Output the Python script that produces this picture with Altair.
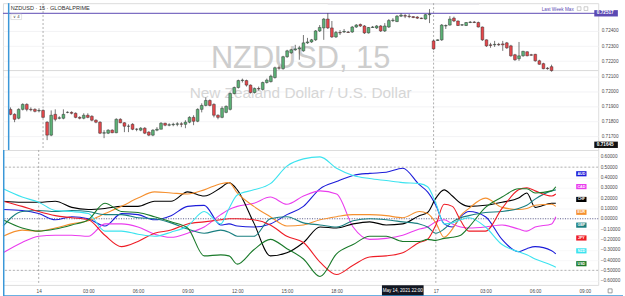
import altair as alt
import pandas as pd

# ------------------------------------------------------------------ data
# NZDUSD 15-minute candles; bar index 0 = 14 May 00:00, 96 = 17 May 00:00
candle_index = list(range(-8, 126))
opens = [0.71880, 0.71847, 0.71821, 0.71880, 0.71913, 0.71880, 0.71880, 0.71870, 0.71873, 0.71795,
         0.71709, 0.71847, 0.71821, 0.71821, 0.71860, 0.71860, 0.71854, 0.71827, 0.71821, 0.71841,
         0.71834, 0.71808, 0.71795, 0.71722, 0.71722, 0.71742, 0.71725, 0.71814, 0.71791, 0.71768,
         0.71781, 0.71748, 0.71742, 0.71755, 0.71729, 0.71709, 0.71742, 0.71748, 0.71788, 0.71775,
         0.71778, 0.71781, 0.71784, 0.71781, 0.71795, 0.71827, 0.71801, 0.71880, 0.71906, 0.71939,
         0.71913, 0.71841, 0.71827, 0.71860, 0.71880, 0.71985, 0.72025, 0.72071, 0.72071, 0.72041,
         0.71992, 0.72018, 0.72012, 0.72058, 0.72064, 0.72091, 0.72156, 0.72150, 0.72229, 0.72255,
         0.72275, 0.72281, 0.72268, 0.72321, 0.72327, 0.72341, 0.72400, 0.72420, 0.72479, 0.72420,
         0.72360, 0.72390, 0.72393, 0.72393, 0.72393, 0.72426, 0.72443, 0.72433, 0.72387, 0.72423,
         0.72420, 0.72433, 0.72400, 0.72426, 0.72469, 0.72462, 0.72498, 0.72502, 0.72498, 0.72495,
         0.72492, 0.72485, 0.72479, 0.72508, 0.72334, 0.72337, 0.72341, 0.72433, 0.72439, 0.72485,
         0.72466, 0.72439, 0.72436, 0.72456, 0.72459, 0.72456, 0.72426, 0.72341, 0.72308, 0.72308,
         0.72311, 0.72314, 0.72321, 0.72301, 0.72242, 0.72216, 0.72235, 0.72262, 0.72242, 0.72245,
         0.72202, 0.72183, 0.72153, 0.72163]
highs = [0.71893, 0.71854, 0.71887, 0.71920, 0.71920, 0.71893, 0.71887, 0.71887, 0.71880, 0.71801,
         0.71873, 0.71880, 0.71834, 0.71880, 0.71867, 0.71867, 0.71860, 0.71834, 0.71854, 0.71854,
         0.71841, 0.71814, 0.71801, 0.71742, 0.71748, 0.71748, 0.71821, 0.71821, 0.71795, 0.71781,
         0.71788, 0.71755, 0.71762, 0.71762, 0.71735, 0.71748, 0.71762, 0.71795, 0.71791, 0.71788,
         0.71791, 0.71795, 0.71795, 0.71808, 0.71834, 0.71841, 0.71887, 0.71920, 0.71959, 0.71946,
         0.71920, 0.71847, 0.71900, 0.71906, 0.71992, 0.72031, 0.72077, 0.72084, 0.72077, 0.72045,
         0.72025, 0.72031, 0.72064, 0.72084, 0.72110, 0.72163, 0.72169, 0.72235, 0.72275, 0.72281,
         0.72308, 0.72301, 0.72373, 0.72354, 0.72347, 0.72406, 0.72439, 0.72485, 0.72518, 0.72466,
         0.72400, 0.72406, 0.72413, 0.72400, 0.72433, 0.72446, 0.72449, 0.72439, 0.72426, 0.72433,
         0.72439, 0.72439, 0.72452, 0.72479, 0.72485, 0.72505, 0.72518, 0.72512, 0.72512, 0.72498,
         0.72498, 0.72489, 0.72512, 0.72545, 0.72341, 0.72344, 0.72446, 0.72443, 0.72498, 0.72495,
         0.72469, 0.72446, 0.72459, 0.72466, 0.72466, 0.72462, 0.72429, 0.72344, 0.72321, 0.72334,
         0.72321, 0.72334, 0.72327, 0.72308, 0.72248, 0.72327, 0.72268, 0.72265, 0.72248, 0.72248,
         0.72209, 0.72189, 0.72160, 0.72176]
lows = [0.71841, 0.71795, 0.71814, 0.71873, 0.71867, 0.71867, 0.71860, 0.71860, 0.71821, 0.71676,
        0.71702, 0.71801, 0.71814, 0.71814, 0.71854, 0.71847, 0.71821, 0.71814, 0.71814, 0.71821,
        0.71801, 0.71788, 0.71716, 0.71689, 0.71716, 0.71722, 0.71722, 0.71788, 0.71729, 0.71729,
        0.71742, 0.71735, 0.71735, 0.71716, 0.71702, 0.71702, 0.71735, 0.71748, 0.71768, 0.71768,
        0.71768, 0.71768, 0.71762, 0.71755, 0.71788, 0.71775, 0.71795, 0.71860, 0.71900, 0.71900,
        0.71827, 0.71814, 0.71821, 0.71854, 0.71873, 0.71979, 0.72018, 0.72058, 0.72031, 0.71985,
        0.71985, 0.72005, 0.72005, 0.72051, 0.72058, 0.72084, 0.72143, 0.72143, 0.72222, 0.72248,
        0.72268, 0.72209, 0.72262, 0.72314, 0.72321, 0.72334, 0.72393, 0.72341, 0.72413, 0.72354,
        0.72354, 0.72373, 0.72387, 0.72387, 0.72387, 0.72420, 0.72426, 0.72380, 0.72383, 0.72420,
        0.72413, 0.72393, 0.72393, 0.72420, 0.72459, 0.72459, 0.72492, 0.72485, 0.72485, 0.72485,
        0.72479, 0.72479, 0.72475, 0.72452, 0.72275, 0.72334, 0.72334, 0.72413, 0.72436, 0.72459,
        0.72433, 0.72433, 0.72433, 0.72452, 0.72452, 0.72423, 0.72334, 0.72294, 0.72288, 0.72294,
        0.72301, 0.72268, 0.72281, 0.72229, 0.72202, 0.72202, 0.72229, 0.72232, 0.72235, 0.72196,
        0.72176, 0.72146, 0.72143, 0.72130]
closes = [0.71847, 0.71814, 0.71880, 0.71913, 0.71880, 0.71877, 0.71867, 0.71873, 0.71827, 0.71709,
          0.71841, 0.71814, 0.71824, 0.71847, 0.71860, 0.71854, 0.71827, 0.71821, 0.71841, 0.71827,
          0.71808, 0.71795, 0.71722, 0.71725, 0.71742, 0.71725, 0.71814, 0.71791, 0.71768, 0.71768,
          0.71748, 0.71748, 0.71755, 0.71722, 0.71709, 0.71742, 0.71748, 0.71788, 0.71775, 0.71778,
          0.71781, 0.71784, 0.71781, 0.71795, 0.71827, 0.71801, 0.71880, 0.71906, 0.71939, 0.71906,
          0.71841, 0.71827, 0.71887, 0.71900, 0.71985, 0.72025, 0.72071, 0.72074, 0.72041, 0.71992,
          0.72018, 0.72015, 0.72058, 0.72074, 0.72100, 0.72156, 0.72153, 0.72229, 0.72268, 0.72275,
          0.72281, 0.72288, 0.72321, 0.72327, 0.72341, 0.72400, 0.72423, 0.72479, 0.72420, 0.72360,
          0.72390, 0.72387, 0.72397, 0.72390, 0.72426, 0.72439, 0.72433, 0.72387, 0.72423, 0.72426,
          0.72433, 0.72400, 0.72433, 0.72469, 0.72472, 0.72498, 0.72505, 0.72498, 0.72495, 0.72489,
          0.72485, 0.72482, 0.72508, 0.72512, 0.72281, 0.72341, 0.72439, 0.72436, 0.72479, 0.72466,
          0.72436, 0.72441, 0.72456, 0.72459, 0.72456, 0.72426, 0.72341, 0.72301, 0.72304, 0.72311,
          0.72308, 0.72308, 0.72288, 0.72235, 0.72209, 0.72235, 0.72265, 0.72235, 0.72239, 0.72202,
          0.72179, 0.72150, 0.72150, 0.72137]

last_week_max = 0.72517
cursor_price = 0.71645
prev_close_line = 0.72137
price_ticks = [0.717, 0.718, 0.719, 0.720, 0.721, 0.722, 0.723, 0.724]

# currency strength lines (same bar index)
line_index = [-8.6, -4, 0, 4, 8, 12, 16, 20, 24, 28, 32, 36, 40, 44, 46, 48, 52, 56, 60, 64,
              68, 72, 76, 80, 84, 88, 92, 94, 96, 98, 100, 102, 104, 108, 112, 116, 118, 120, 124, 125]
aud = [0.09, 0.08, 0.05, -0.01, 0.02, 0.00, -0.07, 0.05, 0.04, -0.01, 0.03, 0.12, 0.13, -0.06, -0.05, -0.07, -0.08, -0.05, 0.04, 0.12,
       0.29, 0.36, 0.42, 0.44, 0.45, 0.49, 0.33, 0.26, 0.13, -0.05, -0.08, 0.02, 0.07, 0.02, -0.20, -0.32, -0.29, -0.27, -0.31, -0.34]
cad = [-0.33, -0.23, -0.17, -0.16, -0.16, -0.17, -0.05, -0.05, -0.08, -0.15, -0.18, -0.14, -0.08, 0.04, 0.09, 0.12, 0.15, 0.21, 0.14, 0.22,
       0.27, 0.24, -0.08, -0.20, -0.19, -0.16, -0.10, -0.08, -0.03, -0.01, -0.05, -0.08, -0.09, -0.08, -0.06, -0.10, -0.12, -0.08, -0.05, 0.02]
chf = [0.17, 0.16, 0.16, 0.17, 0.11, 0.09, 0.10, 0.12, 0.12, 0.17, 0.17, 0.26, 0.22, 0.30, 0.35, 0.28, -0.04, -0.36, -0.33, -0.23,
       -0.08, -0.09, -0.05, -0.03, -0.06, -0.05, 0.03, 0.06, 0.20, 0.28, 0.22, 0.15, 0.12, 0.13, 0.16, 0.20, 0.25, 0.11, 0.15, 0.15]
eur = [-0.17, -0.11, -0.12, -0.09, -0.05, -0.02, 0.05, 0.12, 0.20, 0.26, 0.25, 0.24, 0.28, 0.34, 0.35, 0.25, 0.12, 0.02, -0.07, -0.06,
       -0.01, 0.02, 0.04, 0.04, 0.03, 0.01, 0.07, 0.05, -0.04, -0.18, -0.10, 0.03, 0.10, 0.20, 0.11, 0.09, 0.10, 0.13, 0.14, 0.12]
gbp = [-0.07, 0.07, 0.08, 0.07, 0.08, 0.07, 0.04, 0.04, 0.01, 0.00, -0.04, -0.10, -0.14, -0.11, -0.13, -0.17, -0.17, 0.00, 0.02, -0.04,
       -0.06, -0.08, -0.02, 0.00, -0.01, -0.03, -0.05, -0.08, -0.14, -0.10, -0.03, 0.01, 0.03, 0.06, 0.07, 0.10, 0.13, 0.19, 0.27, 0.28]
jpy = [0.17, 0.12, 0.07, 0.03, 0.01, -0.01, -0.16, -0.27, -0.22, -0.14, -0.11, -0.05, -0.03, -0.01, 0.00, 0.00, -0.01, -0.06, -0.17, -0.23,
       -0.42, -0.54, -0.45, -0.37, -0.36, -0.33, -0.23, -0.20, -0.06, 0.14, 0.12, -0.02, -0.12, -0.12, 0.10, 0.28, 0.30, 0.27, 0.22, 0.24]
nzd = [0.29, 0.21, 0.16, 0.08, 0.07, 0.05, -0.12, -0.12, -0.15, -0.17, -0.13, -0.07, 0.07, -0.05, 0.10, 0.23, 0.28, 0.34, 0.51, 0.58,
       0.60, 0.49, 0.42, 0.39, 0.37, 0.35, 0.34, 0.31, 0.15, -0.05, -0.04, -0.01, 0.01, -0.08, -0.25, -0.32, -0.35, -0.39, -0.45, -0.47]
usd = [-0.01, -0.09, -0.12, -0.10, -0.06, -0.01, 0.15, 0.07, 0.06, 0.02, -0.03, -0.09, -0.36, -0.35, -0.36, -0.44, -0.30, -0.20, -0.29, -0.39,
       -0.56, -0.34, -0.25, -0.17, -0.17, -0.22, -0.22, -0.20, -0.21, -0.19, -0.18, -0.16, -0.08, 0.11, 0.21, 0.29, 0.29, 0.25, 0.27, 0.31]

currencies = ["AUD", "CAD", "CHF", "EUR", "GBP", "JPY", "NZD", "USD"]
currency_colors = ["#1c1cd9", "#ea3cee", "#000000", "#f5902f", "#1a7f80", "#ee1c25", "#3ce3ef", "#1a7a2a"]
strength_ticks = [-0.6, -0.5, -0.4, -0.3, -0.2, -0.1, 0.0, 0.1, 0.2, 0.3, 0.4, 0.5, 0.6]
time_ticks = [0, 12, 24, 36, 48, 60, 72, 96, 108, 120, 132]
session_breaks = [0, 96]
cursor_bar = 88

# ------------------------------------------------------------------ scales / axes
X_DOMAIN = [-8.633, 135.25]          # 600 px plot width, 4.17 px per bar
PRICE_DOMAIN = [0.716105, 0.725842]
STR_DOMAIN = [-0.6413, 0.6663]
AX_K = 138.2                          # centre of the right price-scale column
AX_K0, AX_K1 = 135.5, 141.3

xs = alt.Scale(domain=X_DOMAIN, nice=False, zero=False)
ps = alt.Scale(domain=PRICE_DOMAIN, nice=False, zero=False)
ss = alt.Scale(domain=STR_DOMAIN, nice=False, zero=False)

LBL = dict(labelFontSize=4.7, labelColor="#4a4a4a", ticks=False, domain=False, title=None)
price_axis = alt.Axis(orient="right", values=price_ticks, format=".5f", labelPadding=3,
                      grid=True, gridColor="#f0f0f3", gridWidth=0.8, labelAlign="left", **LBL)
str_axis = alt.Axis(orient="right", values=strength_ticks, format=".5f", labelPadding=2,
                    grid=True, gridColor="#f3f3f5", gridWidth=0.6, labelAlign="left", **LBL)
time_axis = alt.Axis(values=time_ticks, labelPadding=3.5, grid=False,
                     labelExpr="datum.value == 0 ? '14' : datum.value == 96 ? '17' : "
                               "(floor((datum.value % 96) / 4) < 10 ? '0' : '') + floor((datum.value % 96) / 4) + ':00'",
                     **LBL)

W, TOP_H, BOT_H = 600, 148, 136
PX_PRICE = (PRICE_DOMAIN[1] - PRICE_DOMAIN[0]) / TOP_H
PX_STR = (STR_DOMAIN[1] - STR_DOMAIN[0]) / BOT_H
PX_K = (X_DOMAIN[1] - X_DOMAIN[0]) / W


def TX(field="k", top=True):
    return alt.X(f"{field}:Q", scale=xs, axis=None if top else time_axis)


def TY(field, top=True):
    return alt.Y(f"{field}:Q", scale=ps if top else ss, axis=price_axis if top else str_axis)


# ------------------------------------------------------------------ top panel
candles = pd.DataFrame({"k": candle_index, "open": opens, "high": highs, "low": lows, "close": closes})
candles["fill"] = ["#5cb176" if c >= o else "#e5474b" for o, c in zip(opens, closes)]

mid_k = (X_DOMAIN[0] + X_DOMAIN[1]) / 2
water = pd.DataFrame({"k": [mid_k], "p": [PRICE_DOMAIN[1] - 56 * PX_PRICE], "t": ["NZDUSD, 15"]})
water2 = pd.DataFrame({"k": [mid_k], "p": [PRICE_DOMAIN[1] - 91 * PX_PRICE], "t": ["New Zealand Dollar / U.S. Dollar"]})

wm1 = alt.Chart(water).mark_text(fontSize=31, font="Liberation Sans", color="#cdcdcd",
                                 baseline="middle").encode(x=TX(), y=TY("p"), text="t:N")
wm2 = alt.Chart(water2).mark_text(fontSize=15.5, font="Liberation Sans", color="#d6d6d6",
                                  baseline="middle").encode(x=TX(), y=TY("p"), text="t:N")

toolbar = pd.DataFrame({"k0": [70.0], "k1": [107.2], "p0": [PRICE_DOMAIN[1]], "p1": [PRICE_DOMAIN[1] - 1.6 * PX_PRICE]})
tb = alt.Chart(toolbar).mark_rect(color="#e6e6ea").encode(x=TX("k0"), x2="k1:Q", y=TY("p0"), y2="p1:Q")

ref_df = pd.DataFrame({"p": [prev_close_line]})
ref = alt.Chart(ref_df).mark_rule(color="#cfcfcf", strokeWidth=0.8).encode(y=TY("p"))

lwm_df = pd.DataFrame({"p": [last_week_max]})
lwm = alt.Chart(lwm_df).mark_rule(color="#5b49b3", strokeWidth=1).encode(y=TY("p"))

sess_df = pd.DataFrame({"k": session_breaks})
sess_top = alt.Chart(sess_df).mark_rule(color="#9a9a9a", strokeWidth=0.8, strokeDash=[2, 2]).encode(x=TX())

wick = alt.Chart(candles).mark_rule(color="#3a3a3a", strokeWidth=0.7).encode(x=TX(), y=TY("low"), y2="high:Q")
body = alt.Chart(candles).mark_bar(size=2.8, stroke="#2b2b2b", strokeWidth=0.45).encode(
    x=TX(), y=TY("open"), y2="close:Q", color=alt.Color("fill:N", scale=None))

title_df = pd.DataFrame({"k": [X_DOMAIN[0] + 3 * PX_K], "p": [PRICE_DOMAIN[1] - 5 * PX_PRICE],
                         "t": ["NZDUSD · 15 · GLOBALPRIME"]})
title = alt.Chart(title_df).mark_text(fontSize=5.6, color="#2f2f2f", align="left", baseline="middle").encode(
    x=TX(), y=TY("p"), text="t:N")

vbox_df = pd.DataFrame({"k0": [X_DOMAIN[0] + 3 * PX_K], "k1": [X_DOMAIN[0] + 14 * PX_K],
                        "p0": [PRICE_DOMAIN[1] - 11 * PX_PRICE], "p1": [PRICE_DOMAIN[1] - 16.5 * PX_PRICE],
                        "k": [X_DOMAIN[0] + 8.5 * PX_K], "p": [PRICE_DOMAIN[1] - 13.7 * PX_PRICE], "t": ["∨ 4"]})
vbox = alt.Chart(vbox_df).mark_rect(fill="white", stroke="#d0d0d0", strokeWidth=0.6).encode(
    x=TX("k0"), x2="k1:Q", y=TY("p0"), y2="p1:Q")
vtxt = alt.Chart(vbox_df).mark_text(fontSize=4.3, color="#444", baseline="middle").encode(x=TX(), y=TY("p"), text="t:N")

lwm_lbl = pd.DataFrame({"k": [X_DOMAIN[0] + 580 * PX_K], "p": [PRICE_DOMAIN[1] - 6.5 * PX_PRICE], "t": ["Last Week Max"]})
lwm_text = alt.Chart(lwm_lbl).mark_text(fontSize=4.7, color="#5b49b3", align="right", baseline="middle").encode(
    x=TX(), y=TY("p"), text="t:N")
icons = pd.DataFrame({"k": [X_DOMAIN[0] + 585.5 * PX_K, X_DOMAIN[0] + 592.5 * PX_K],
                      "p": [PRICE_DOMAIN[1] - 5.5 * PX_PRICE] * 2})
icon_mark = alt.Chart(icons).mark_point(shape="square", size=14, filled=False, color="#888", strokeWidth=0.6).encode(
    x=TX(), y=TY("p"))

ax_boxes = pd.DataFrame({"p": [last_week_max, cursor_price], "t": ["0.72517", "0.71645"],
                         "c": ["#5b49b3", "#111111"]})
ax_boxes["p0"] = ax_boxes["p"] - 3.2 * PX_PRICE
ax_boxes["p1"] = ax_boxes["p"] + 3.2 * PX_PRICE
ax_boxes["k0"] = AX_K0
ax_boxes["k1"] = AX_K1
ax_boxes["k"] = AX_K
axb = alt.Chart(ax_boxes).mark_rect().encode(x=TX("k0"), x2="k1:Q", y=TY("p0"), y2="p1:Q",
                                             color=alt.Color("c:N", scale=None))
axt = alt.Chart(ax_boxes).mark_text(fontSize=4.7, color="white", fontWeight="bold", baseline="middle").encode(
    x=TX(), y=TY("p"), text="t:N")

edge_top = pd.DataFrame({"k": [X_DOMAIN[0] + 0.75 * PX_K]})
edge_t = alt.Chart(edge_top).mark_rule(color="#3a97d8", strokeWidth=1.5).encode(x=TX())

top = alt.layer(tb, wm1, wm2, ref, sess_top, lwm, wick, body, title, vbox, vtxt, lwm_text, icon_mark,
                axb, axt, edge_t).properties(width=W, height=TOP_H)

# ------------------------------------------------------------------ bottom panel
series = {"AUD": aud, "CAD": cad, "CHF": chf, "EUR": eur, "GBP": gbp, "JPY": jpy, "NZD": nzd, "USD": usd}
col_of = dict(zip(currencies, currency_colors))
lines_df = pd.concat([pd.DataFrame({"k": line_index, "v": vals, "cur": name, "col": col_of[name]})
                      for name, vals in series.items()])

half_df = pd.DataFrame({"v": [0.5, -0.5]})
half = alt.Chart(half_df).mark_rule(color="#a0a0a0", strokeWidth=0.8, strokeDash=[2, 2]).encode(y=TY("v", False))
zero_df = pd.DataFrame({"v": [0.0]})
zero = alt.Chart(zero_df).mark_rule(color="#4b4b80", strokeWidth=0.9, strokeDash=[1, 1.5]).encode(y=TY("v", False))
sess_bot = alt.Chart(sess_df).mark_rule(color="#9a9a9a", strokeWidth=0.8, strokeDash=[2, 2]).encode(x=TX(top=False))

lines = alt.Chart(lines_df).mark_line(strokeWidth=1.1, interpolate="monotone").encode(
    x=TX(top=False), y=TY("v", False), color=alt.Color("col:N", scale=None), detail="cur:N")

LEG_K = X_DOMAIN[0] + 583 * PX_K
leg = pd.DataFrame({"cur": currencies, "col": currency_colors})
leg["v"] = [0.436 - 0.1245 * i for i in range(len(currencies))]
leg["v0"] = leg["v"] - 2.6 * PX_STR
leg["v1"] = leg["v"] + 2.6 * PX_STR
leg["k"] = LEG_K
leg["k0"] = LEG_K - 5.2 * PX_K
leg["k1"] = LEG_K + 5.2 * PX_K
leg_box = alt.Chart(leg).mark_rect().encode(x=TX("k0", False), x2="k1:Q", y=TY("v0", False), y2="v1:Q",
                                            color=alt.Color("col:N", scale=None))
leg_txt = alt.Chart(leg).mark_text(fontSize=3.6, color="white", fontWeight="bold", baseline="middle").encode(
    x=TX(top=False), y=TY("v", False), text="cur:N")

cur_df = pd.DataFrame({"k": [cursor_bar], "k0": [X_DOMAIN[0] + 382 * PX_K], "k1": [X_DOMAIN[0] + 424 * PX_K],
                       "v0": [STR_DOMAIN[0] - 0.4 * PX_STR], "v1": [STR_DOMAIN[0] - 12 * PX_STR],
                       "v": [STR_DOMAIN[0] - 6.0 * PX_STR], "t": ["May 14, 2021   22:00"]})
cur_box = alt.Chart(cur_df).mark_rect(color="#131722").encode(x=TX("k0", False), x2="k1:Q", y=TY("v0", False), y2="v1:Q")
cur_txt = alt.Chart(cur_df).mark_text(fontSize=4.6, color="white", baseline="middle").encode(
    x=TX(top=False), y=TY("v", False), text="t:N")

sq_df = pd.DataFrame({"k": [X_DOMAIN[0] + 612 * PX_K], "v": [STR_DOMAIN[0] - 6.0 * PX_STR]})
sq = alt.Chart(sq_df).mark_point(shape="square", size=16, filled=False, color="#555", strokeWidth=0.8).encode(
    x=TX(top=False), y=TY("v", False))

edge_df = pd.DataFrame({"k": [X_DOMAIN[0] + 0.75 * PX_K], "k1": [X_DOMAIN[0] + 625 * PX_K],
                        "k0": [X_DOMAIN[0]],
                        "v0": [STR_DOMAIN[1]], "v1": [STR_DOMAIN[0] - 11.2 * PX_STR]})
edge_l = alt.Chart(edge_df).mark_rule(color="#3a97d8", strokeWidth=1.5).encode(
    x=TX(top=False), y=TY("v0", False), y2="v1:Q")
edge_b = alt.Chart(edge_df).mark_rule(color="#3a97d8", strokeWidth=1.5).encode(
    x=TX("k0", False), x2="k1:Q", y=TY("v1", False))

bottom = alt.layer(half, zero, sess_bot, lines, leg_box, leg_txt, cur_box, cur_txt, sq, edge_l, edge_b).properties(
    width=W, height=BOT_H)

chart = alt.vconcat(top, bottom, spacing=0, bounds="flush").properties(
    padding=0, background="white"
).configure_view(stroke="#d2d2d2", strokeWidth=0.8).configure(font="Liberation Sans")

chart.save("out.html", embed_options={"renderer": "svg", "actions": False})
